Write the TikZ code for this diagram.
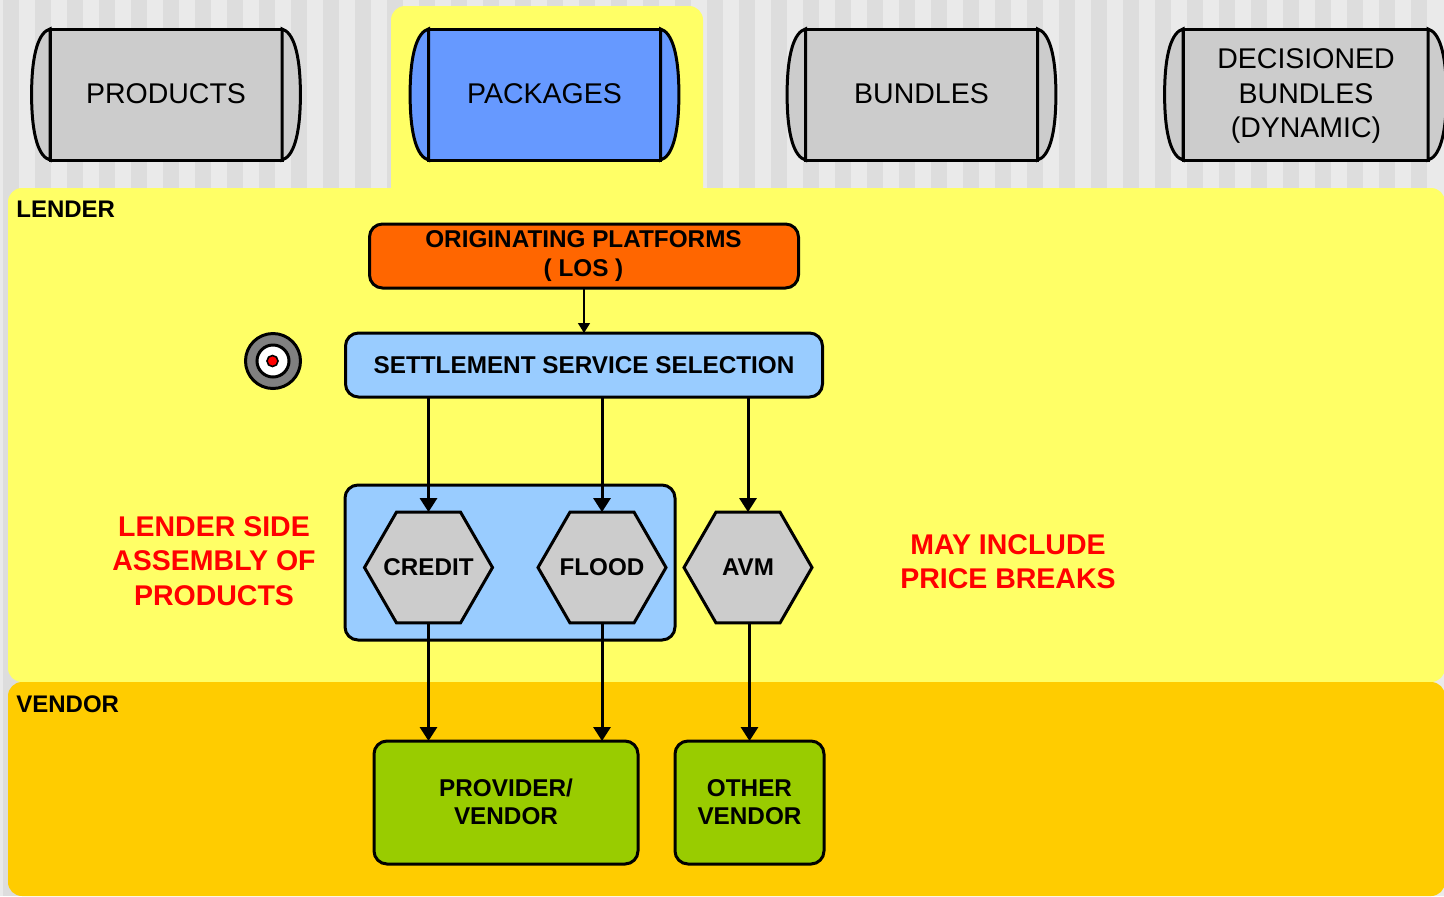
\documentclass[tikz,border=0pt]{standalone}
\usepackage{fontspec}
\setmainfont{Liberation Sans}
\usetikzlibrary{arrows.meta,shapes.geometric}
\definecolor{stripeD}{HTML}{DDDDDD}
\definecolor{stripeL}{HTML}{EAEAEA}
\definecolor{lenderY}{HTML}{FFFF66}
\definecolor{vendorO}{HTML}{FFCC00}
\definecolor{drumG}{HTML}{CCCCCC}
\definecolor{drumB}{HTML}{6699FF}
\definecolor{losO}{HTML}{FF6600}
\definecolor{skyB}{HTML}{99CCFF}
\definecolor{vendG}{HTML}{99CC00}
\definecolor{redT}{HTML}{FF0000}
\tikzset{
  x=0.5pt,y=-0.5pt,
  lw/.style={line width=1.5pt},
  drum/.style={draw,lw,rectangle,inner sep=0pt,outer sep=0pt,minimum width=116pt,minimum height=65.5pt,align=center,font=\fontsize{14.25pt}{17.2pt}\selectfont},
  boxr/.style={draw,lw,rectangle,rounded corners=6.5pt,inner sep=0pt,outer sep=0pt,align=center},
  hexa/.style={draw,lw,fill=drumG,regular polygon,regular polygon sides=6,inner sep=0pt,outer sep=0pt,minimum size=64pt,label={[font=\fontsize{12.1pt}{14pt}\selectfont\bfseries,inner sep=0pt]center:#1}},
  btxt/.style={font=\fontsize{12.15pt}{14pt}\selectfont\bfseries,align=center,inner sep=0pt},
  rtxt/.style={text=redT,font=\fontsize{14.25pt}{17.2pt}\selectfont\bfseries,align=center,inner sep=0pt},
  ltxt/.style={font=\fontsize{12pt}{14pt}\selectfont\bfseries,anchor=west,inner sep=0pt},
  arr/.style={lw,-{Triangle[length=7pt,width=8.5pt]}},
  thinarr/.style={line width=0.75pt,-{Triangle[length=5pt,width=6pt]}}
}
\newcommand{\bulge}[2]{%
  \draw[lw,fill=#2] (#1.north west) .. controls +(-11,3) and +(0,-42) .. ([xshift=-9.2pt]#1.west)
     .. controls +(0,42) and +(-11,-3) .. (#1.south west) -- cycle;
  \draw[lw,fill=#2] (#1.north east) .. controls +(11,3) and +(0,-42) .. ([xshift=9.2pt]#1.east)
     .. controls +(0,42) and +(11,-3) .. (#1.south east) -- cycle;
}
\begin{document}
\begin{tikzpicture}
\useasboundingbox (0,0) rectangle (1444,896);
\fill[stripeL] (0,0) rectangle (1444,896);
\foreach \i in {0,...,44}{\fill[stripeD] ({3+32*\i},0) rectangle ({19+32*\i},896);}
% regions
\fill[lenderY,rounded corners=7pt] (391,220) -- (391,6) -- (703,6) -- (703,220) -- cycle;
\fill[lenderY,rounded corners=7pt] (8,188) -- (1445,188) -- (1445,682) -- (8,682) -- cycle;
\fill[vendorO,rounded corners=7pt] (8,682) -- (1445,682) -- (1445,896) -- (8,896) -- cycle;
% drums
\node[drum,fill=drumG] (products) at (166,94.5) {\raisebox{1pt}{PRODUCTS}};
\node[drum,fill=drumB] (packages) at (544.5,94.5) {\raisebox{1pt}{PACKAGES}};
\node[drum,fill=drumG] (bundles) at (921.5,94.5) {\raisebox{1pt}{BUNDLES}};
\node[drum,fill=drumG,minimum width=122.5pt] (decisioned) at (1305.5,94.5) {};
\bulge{products}{drumG}
\bulge{packages}{drumB}
\bulge{bundles}{drumG}
\bulge{decisioned}{drumG}
\node[align=center,inner sep=0pt,font=\fontsize{14.25pt}{17.2pt}\selectfont] (dectext) at (1306,96) {DECISIONED\\BUNDLES\\(DYNAMIC)};
% labels
\node[ltxt] (lender) at (16,209.5) {LENDER};
\node[ltxt] (vendor) at (16,704) {VENDOR};
% target icon
\node[circle,draw,lw,fill=gray,minimum size=27.5pt,inner sep=0pt] (tgt) at (273,361) {};
\node[circle,draw,lw,fill=white,minimum size=16pt,inner sep=0pt] (tgtw) at (273,361) {};
\node[circle,draw,line width=0.8pt,fill=redT,minimum size=5.5pt,inner sep=0pt] (tgtr) at (272.5,361) {};
% boxes
\node[boxr,fill=losO,minimum width=214.5pt,minimum height=32pt] (los) at (584,256) {};
\node[btxt,font=\fontsize{12.15pt}{14.5pt}\selectfont\bfseries] (lostxt) at (583.5,256.5) {ORIGINATING PLATFORMS\\( LOS )};
\node[boxr,fill=skyB,minimum width=238.5pt,minimum height=32pt,font=\fontsize{12.15pt}{14.3pt}\selectfont\bfseries] (sss) at (584,365) {SETTLEMENT SERVICE SELECTION};
\node[boxr,fill=skyB,minimum width=165pt,minimum height=77.5pt] (group) at (510,562.5) {};
\node[hexa=CREDIT] (credit) at (428.5,567.5) {};
\node[hexa=FLOOD] (flood) at (602,567.5) {};
\node[hexa=AVM] (avm) at (748,567.5) {};
\node[boxr,fill=vendG,minimum width=132pt,minimum height=61.5pt] (provider) at (506,802.5) {};
\node[btxt] (provtxt) at (506,802) {PROVIDER/\\VENDOR};
\node[boxr,fill=vendG,minimum width=74.5pt,minimum height=61.5pt] (other) at (749.5,802.5) {};
\node[btxt] (othtxt) at (749.5,802) {OTHER\\VENDOR};
% red text
\node[rtxt] (left) at (214,561) {LENDER SIDE\\ASSEMBLY OF\\PRODUCTS};
\node[rtxt] (right) at (1008,561.5) {MAY INCLUDE\\PRICE BREAKS};
% connectors
\draw[thinarr] (los.south) -- (sss.north);
\draw[arr] (sss.south -| credit.north) -- (credit.north);
\draw[arr] (sss.south -| flood.north) -- (flood.north);
\draw[arr] (sss.south -| avm.north) -- (avm.north);
\draw[arr] (credit.south) -- (provider.north -| credit.south);
\draw[arr] (flood.south) -- (provider.north -| flood.south);
\draw[arr] (avm.south -| other.north) -- (other.north);
\end{tikzpicture}
\end{document}
